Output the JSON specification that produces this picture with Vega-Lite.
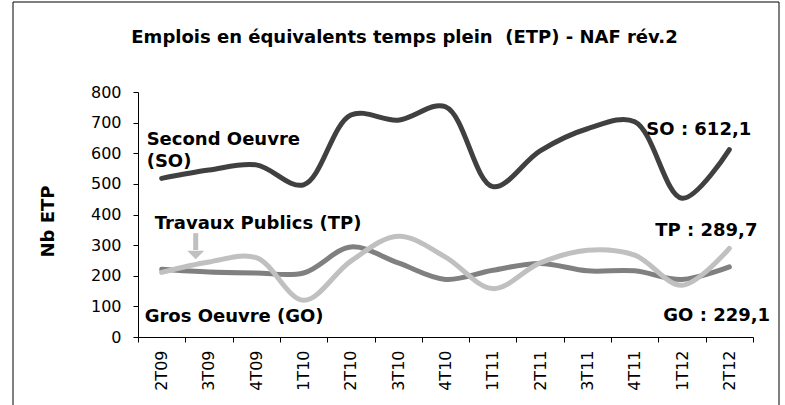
{
  "$schema": "https://vega.github.io/schema/vega-lite/v6.json",
  "width": 615,
  "height": 245,
  "autosize": "none",
  "padding": {"left": 138, "top": 92, "right": 32, "bottom": 68},
  "background": "white",
  "title": {
    "text": "Emplois en équivalents temps plein \u00a0(ETP) - NAF rév.2",
    "anchor": "middle",
    "frame": "group",
    "dx": -41,
    "offset": -59,
    "baseline": "alphabetic",
    "font": "DejaVu Sans",
    "fontSize": 18,
    "fontWeight": "bold",
    "color": "#000000"
  },
  "config": {
    "view": {"stroke": null},
    "axis": {
      "domainColor": "#000000",
      "tickColor": "#000000",
      "labelColor": "#000000",
      "labelFont": "DejaVu Sans",
      "labelFontSize": 16,
      "labelOverlap": false,
      "titleFont": "DejaVu Sans",
      "titleFontSize": 18,
      "titleFontWeight": "bold",
      "titleColor": "#000000",
      "grid": false,
      "tickSize": 5
    }
  },
  "layer": [
    {
      "data": {
        "values": [
          {"q": "2T09", "serie": "SO", "v": 518},
          {"q": "3T09", "serie": "SO", "v": 545},
          {"q": "4T09", "serie": "SO", "v": 562},
          {"q": "1T10", "serie": "SO", "v": 497},
          {"q": "2T10", "serie": "SO", "v": 725},
          {"q": "3T10", "serie": "SO", "v": 708},
          {"q": "4T10", "serie": "SO", "v": 752},
          {"q": "1T11", "serie": "SO", "v": 491},
          {"q": "2T11", "serie": "SO", "v": 608},
          {"q": "3T11", "serie": "SO", "v": 680},
          {"q": "4T11", "serie": "SO", "v": 703},
          {"q": "1T12", "serie": "SO", "v": 453},
          {"q": "2T12", "serie": "SO", "v": 612.1},
          {"q": "2T09", "serie": "GO", "v": 221},
          {"q": "3T09", "serie": "GO", "v": 212},
          {"q": "4T09", "serie": "GO", "v": 209},
          {"q": "1T10", "serie": "GO", "v": 209},
          {"q": "2T10", "serie": "GO", "v": 294},
          {"q": "3T10", "serie": "GO", "v": 242},
          {"q": "4T10", "serie": "GO", "v": 188},
          {"q": "1T11", "serie": "GO", "v": 218},
          {"q": "2T11", "serie": "GO", "v": 240},
          {"q": "3T11", "serie": "GO", "v": 216},
          {"q": "4T11", "serie": "GO", "v": 216},
          {"q": "1T12", "serie": "GO", "v": 188},
          {"q": "2T12", "serie": "GO", "v": 229.1},
          {"q": "2T09", "serie": "TP", "v": 211},
          {"q": "3T09", "serie": "TP", "v": 245},
          {"q": "4T09", "serie": "TP", "v": 259},
          {"q": "1T10", "serie": "TP", "v": 120},
          {"q": "2T10", "serie": "TP", "v": 248},
          {"q": "3T10", "serie": "TP", "v": 329},
          {"q": "4T10", "serie": "TP", "v": 261},
          {"q": "1T11", "serie": "TP", "v": 158},
          {"q": "2T11", "serie": "TP", "v": 242},
          {"q": "3T11", "serie": "TP", "v": 283},
          {"q": "4T11", "serie": "TP", "v": 267},
          {"q": "1T12", "serie": "TP", "v": 169},
          {"q": "2T12", "serie": "TP", "v": 289.7}
        ]
      },
      "mark": {"type": "line", "interpolate": "catmull-rom", "strokeWidth": 5, "strokeCap": "round"},
      "encoding": {
        "x": {
          "field": "q",
          "type": "ordinal",
          "bandPosition": 0.5,
          "scale": {
            "type": "band",
            "paddingInner": 0,
            "paddingOuter": 0,
            "domain": ["2T09", "3T09", "4T09", "1T10", "2T10", "3T10", "4T10", "1T11", "2T11", "3T11", "4T11", "1T12", "2T12"]
          },
          "axis": {
            "title": null,
            "tickBand": "extent",
            "labelAngle": 270,
            "labelAlign": "right",
            "labelBaseline": "middle",
            "labelPadding": 8
          }
        },
        "y": {
          "field": "v",
          "type": "quantitative",
          "scale": {"domain": [0, 800], "nice": false},
          "axis": {
            "title": "Nb ETP",
            "values": [0, 100, 200, 300, 400, 500, 600, 700, 800],
            "tickCount": 20,
            "labelOverlap": false,
            "labelPadding": 12,
            "titleAngle": 270,
            "titleX": -90,
            "titleY": 129,
            "titleAlign": "center",
            "titleBaseline": "middle"
          }
        },
        "color": {
          "field": "serie",
          "type": "nominal",
          "scale": {"domain": ["SO", "GO", "TP"], "range": ["#404040", "#808080", "#c0c0c0"]},
          "legend": null
        },
        "order": {"field": "serie"}
      }
    },
    {
      "data": {"values": [{"frame": 1}]},
      "mark": {"type": "rect", "fill": null, "stroke": "#000000", "strokeWidth": 1, "clip": false},
      "encoding": {
        "x": {"value": -125},
        "x2": {"value": 641},
        "y": {"value": -90},
        "y2": {"value": 330}
      }
    },
    {
      "data": {"values": [{"q": "3T09", "v": 339, "v2": 284}]},
      "mark": {"type": "rule", "color": "#c0c0c0", "strokeWidth": 5},
      "encoding": {
        "x": {"field": "q", "type": "ordinal", "bandPosition": 0.22},
        "y": {"field": "v", "type": "quantitative"},
        "y2": {"field": "v2"}
      }
    },
    {
      "data": {"values": [{"q": "3T09", "v": 268}]},
      "mark": {"type": "point", "shape": "M-1,-0.5L1,-0.5L0,0.5Z", "filled": true, "color": "#c0c0c0", "opacity": 1, "size": 289},
      "encoding": {
        "x": {"field": "q", "type": "ordinal", "bandPosition": 0.22},
        "y": {"field": "v", "type": "quantitative"}
      }
    },
    {
      "data": {"values": [{"q": "2T09", "v": 626, "t": "Second Oeuvre"}, {"q": "2T09", "v": 555, "t": "(SO)"}]},
      "mark": {"type": "text", "align": "left", "baseline": "alphabetic", "dx": -15, "font": "DejaVu Sans", "fontSize": 18, "fontWeight": "bold", "color": "#000000"},
      "encoding": {
        "x": {"field": "q", "type": "ordinal", "bandPosition": 0.5},
        "y": {"field": "v", "type": "quantitative"},
        "text": {"field": "t"}
      }
    },
    {
      "data": {"values": [{"q": "2T09", "v": 354, "t": "Travaux Publics (TP)"}]},
      "mark": {"type": "text", "align": "left", "baseline": "alphabetic", "dx": -7, "font": "DejaVu Sans", "fontSize": 18, "fontWeight": "bold", "color": "#000000"},
      "encoding": {
        "x": {"field": "q", "type": "ordinal", "bandPosition": 0.5},
        "y": {"field": "v", "type": "quantitative"},
        "text": {"field": "t"}
      }
    },
    {
      "data": {"values": [{"q": "2T09", "v": 49, "t": "Gros Oeuvre (GO)"}]},
      "mark": {"type": "text", "align": "left", "baseline": "alphabetic", "dx": -17, "font": "DejaVu Sans", "fontSize": 18, "fontWeight": "bold", "color": "#000000"},
      "encoding": {
        "x": {"field": "q", "type": "ordinal", "bandPosition": 0.5},
        "y": {"field": "v", "type": "quantitative"},
        "text": {"field": "t"}
      }
    },
    {
      "data": {"values": [{"q": "2T12", "v": 659, "t": "SO : 612,1"}]},
      "mark": {"type": "text", "align": "left", "baseline": "alphabetic", "dx": -83, "font": "DejaVu Sans", "fontSize": 18, "fontWeight": "bold", "color": "#000000"},
      "encoding": {
        "x": {"field": "q", "type": "ordinal", "bandPosition": 0.5},
        "y": {"field": "v", "type": "quantitative"},
        "text": {"field": "t"}
      }
    },
    {
      "data": {"values": [{"q": "2T12", "v": 329, "t": "TP : 289,7"}]},
      "mark": {"type": "text", "align": "left", "baseline": "alphabetic", "dx": -74, "font": "DejaVu Sans", "fontSize": 18, "fontWeight": "bold", "color": "#000000"},
      "encoding": {
        "x": {"field": "q", "type": "ordinal", "bandPosition": 0.5},
        "y": {"field": "v", "type": "quantitative"},
        "text": {"field": "t"}
      }
    },
    {
      "data": {"values": [{"q": "2T12", "v": 52, "t": "GO : 229,1"}]},
      "mark": {"type": "text", "align": "left", "baseline": "alphabetic", "dx": -66, "font": "DejaVu Sans", "fontSize": 18, "fontWeight": "bold", "color": "#000000"},
      "encoding": {
        "x": {"field": "q", "type": "ordinal", "bandPosition": 0.5},
        "y": {"field": "v", "type": "quantitative"},
        "text": {"field": "t"}
      }
    }
  ]
}
